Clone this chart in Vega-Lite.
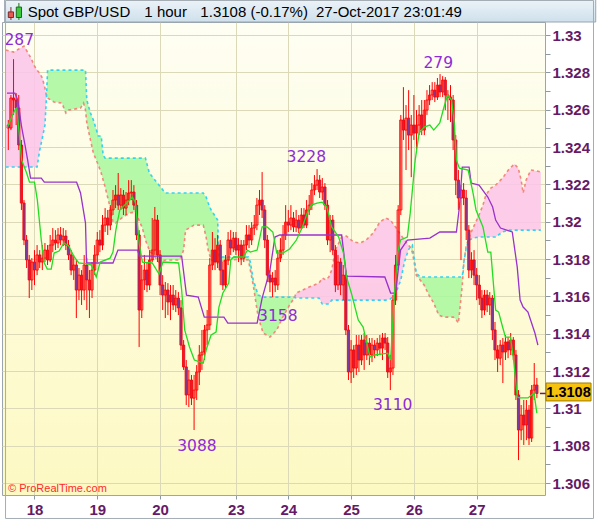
{
"$schema":"https://vega.github.io/schema/vega-lite/v6.json",
"width":543,"height":473,
"autosize":{"type":"none"},
"padding":{"left":2,"top":22,"right":55,"bottom":24},
"background":"#ffffff",
"config":{"view":{"stroke":"#9aa5ad","strokeWidth":1,"fill":{"gradient":"linear","x1":0,"y1":0,"x2":0,"y2":1,"stops":[{"offset":0,"color":"#fefef3"},{"offset":1,"color":"#fdf9c3"}]}}},
"resolve":{"axis":{"y":"independent"}},
"datasets":{
"candles":[
{"i":-10,"o":1.32518,"h":1.32545,"l":1.32384,"c":1.32502},
{"i":-9,"o":1.32502,"h":1.32679,"l":1.32491,"c":1.32663},
{"i":-8,"o":1.32663,"h":1.32871,"l":1.32572,"c":1.32652},
{"i":-7,"o":1.32652,"h":1.32689,"l":1.32518,"c":1.32609},
{"i":-6,"o":1.32609,"h":1.32679,"l":1.32384,"c":1.32411},
{"i":-5,"o":1.32411,"h":1.32438,"l":1.32063,"c":1.32100},
{"i":-4,"o":1.32100,"h":1.32116,"l":1.31875,"c":1.31902},
{"i":-3,"o":1.31902,"h":1.31929,"l":1.31752,"c":1.31795},
{"i":-2,"o":1.31795,"h":1.31822,"l":1.31591,"c":1.31688},
{"i":-1,"o":1.31688,"h":1.31805,"l":1.31634,"c":1.31784},
{"i":0,"o":1.31784,"h":1.31848,"l":1.31661,"c":1.31741},
{"i":1,"o":1.31741,"h":1.31875,"l":1.31714,"c":1.31822},
{"i":2,"o":1.31822,"h":1.31848,"l":1.31752,"c":1.31784},
{"i":3,"o":1.31784,"h":1.31875,"l":1.31741,"c":1.31805},
{"i":4,"o":1.31805,"h":1.31886,"l":1.31784,"c":1.31848},
{"i":5,"o":1.31848,"h":1.31875,"l":1.31768,"c":1.31795},
{"i":6,"o":1.31795,"h":1.31929,"l":1.31784,"c":1.31875},
{"i":7,"o":1.31875,"h":1.31966,"l":1.31837,"c":1.31902},
{"i":8,"o":1.31902,"h":1.31955,"l":1.31848,"c":1.31886},
{"i":9,"o":1.31886,"h":1.31966,"l":1.31859,"c":1.31929},
{"i":10,"o":1.31929,"h":1.31972,"l":1.31875,"c":1.31902},
{"i":11,"o":1.31902,"h":1.31966,"l":1.31870,"c":1.31923},
{"i":12,"o":1.31923,"h":1.31955,"l":1.31848,"c":1.31875},
{"i":13,"o":1.31875,"h":1.31902,"l":1.31795,"c":1.31822},
{"i":14,"o":1.31822,"h":1.31848,"l":1.31714,"c":1.31741},
{"i":15,"o":1.31741,"h":1.31822,"l":1.31688,"c":1.31768},
{"i":16,"o":1.31768,"h":1.31795,"l":1.31484,"c":1.31634},
{"i":17,"o":1.31634,"h":1.31752,"l":1.31580,"c":1.31714},
{"i":18,"o":1.31714,"h":1.31741,"l":1.31554,"c":1.31634},
{"i":19,"o":1.31634,"h":1.31822,"l":1.31580,"c":1.31768},
{"i":20,"o":1.31768,"h":1.31805,"l":1.31527,"c":1.31688},
{"i":21,"o":1.31688,"h":1.31741,"l":1.31484,"c":1.31634},
{"i":22,"o":1.31634,"h":1.31784,"l":1.31591,"c":1.31741},
{"i":23,"o":1.31741,"h":1.31875,"l":1.31714,"c":1.31822},
{"i":24,"o":1.31822,"h":1.31945,"l":1.31784,"c":1.31902},
{"i":25,"o":1.31902,"h":1.31955,"l":1.31837,"c":1.31875},
{"i":26,"o":1.31875,"h":1.32036,"l":1.31848,"c":1.31982},
{"i":27,"o":1.31982,"h":1.32073,"l":1.31945,"c":1.32020},
{"i":28,"o":1.32020,"h":1.32063,"l":1.31929,"c":1.31982},
{"i":29,"o":1.31982,"h":1.32089,"l":1.31955,"c":1.32063},
{"i":30,"o":1.32063,"h":1.32170,"l":1.32036,"c":1.32116},
{"i":31,"o":1.32116,"h":1.32196,"l":1.32073,"c":1.32143},
{"i":32,"o":1.32143,"h":1.32261,"l":1.32063,"c":1.32089},
{"i":33,"o":1.32089,"h":1.32180,"l":1.32063,"c":1.32143},
{"i":34,"o":1.32143,"h":1.32170,"l":1.32036,"c":1.32073},
{"i":35,"o":1.32073,"h":1.32159,"l":1.32036,"c":1.32116},
{"i":36,"o":1.32116,"h":1.32223,"l":1.32089,"c":1.32154},
{"i":37,"o":1.32154,"h":1.32223,"l":1.32116,"c":1.32159},
{"i":38,"o":1.32159,"h":1.32196,"l":1.32063,"c":1.32089},
{"i":39,"o":1.32089,"h":1.32116,"l":1.31902,"c":1.31929},
{"i":40,"o":1.31929,"h":1.31955,"l":1.31329,"c":1.31527},
{"i":41,"o":1.31527,"h":1.31768,"l":1.31484,"c":1.31688},
{"i":42,"o":1.31688,"h":1.31822,"l":1.31634,"c":1.31741},
{"i":43,"o":1.31741,"h":1.31784,"l":1.31623,"c":1.31661},
{"i":44,"o":1.31661,"h":1.31848,"l":1.31634,"c":1.31795},
{"i":45,"o":1.31795,"h":1.32020,"l":1.31784,"c":1.31848},
{"i":46,"o":1.31848,"h":1.32079,"l":1.31822,"c":1.32009},
{"i":47,"o":1.32009,"h":1.32036,"l":1.31784,"c":1.31822},
{"i":48,"o":1.31822,"h":1.31848,"l":1.31607,"c":1.31661},
{"i":49,"o":1.31661,"h":1.31714,"l":1.31527,"c":1.31607},
{"i":50,"o":1.31607,"h":1.31677,"l":1.31484,"c":1.31634},
{"i":51,"o":1.31634,"h":1.31671,"l":1.31500,"c":1.31570},
{"i":52,"o":1.31570,"h":1.31661,"l":1.31473,"c":1.31607},
{"i":53,"o":1.31607,"h":1.31661,"l":1.31527,"c":1.31554},
{"i":54,"o":1.31554,"h":1.31634,"l":1.31516,"c":1.31591},
{"i":55,"o":1.31591,"h":1.31623,"l":1.31500,"c":1.31538},
{"i":56,"o":1.31538,"h":1.31580,"l":1.31313,"c":1.31339},
{"i":57,"o":1.31339,"h":1.31366,"l":1.31206,"c":1.31222},
{"i":58,"o":1.31222,"h":1.31259,"l":1.31018,"c":1.31072},
{"i":59,"o":1.31072,"h":1.31206,"l":1.31007,"c":1.31152},
{"i":60,"o":1.31152,"h":1.31179,"l":1.31018,"c":1.31055},
{"i":61,"o":1.31055,"h":1.31179,"l":1.30884,"c":1.31098},
{"i":62,"o":1.31098,"h":1.31232,"l":1.31045,"c":1.31195},
{"i":63,"o":1.31195,"h":1.31339,"l":1.31125,"c":1.31286},
{"i":64,"o":1.31286,"h":1.31420,"l":1.31206,"c":1.31302},
{"i":65,"o":1.31302,"h":1.31447,"l":1.31259,"c":1.31420},
{"i":66,"o":1.31420,"h":1.31527,"l":1.31339,"c":1.31447},
{"i":67,"o":1.31447,"h":1.31805,"l":1.31420,"c":1.31768},
{"i":68,"o":1.31768,"h":1.31945,"l":1.31741,"c":1.31848},
{"i":69,"o":1.31848,"h":1.31912,"l":1.31741,"c":1.31784},
{"i":70,"o":1.31784,"h":1.31929,"l":1.31752,"c":1.31875},
{"i":71,"o":1.31875,"h":1.31902,"l":1.31661,"c":1.31741},
{"i":72,"o":1.31741,"h":1.31784,"l":1.31634,"c":1.31661},
{"i":73,"o":1.31661,"h":1.31822,"l":1.31645,"c":1.31795},
{"i":74,"o":1.31795,"h":1.31945,"l":1.31768,"c":1.31902},
{"i":75,"o":1.31902,"h":1.31955,"l":1.31822,"c":1.31859},
{"i":76,"o":1.31859,"h":1.31945,"l":1.31837,"c":1.31912},
{"i":77,"o":1.31912,"h":1.31945,"l":1.31822,"c":1.31848},
{"i":78,"o":1.31848,"h":1.31912,"l":1.31784,"c":1.31875},
{"i":79,"o":1.31875,"h":1.31902,"l":1.31768,"c":1.31805},
{"i":80,"o":1.31805,"h":1.31902,"l":1.31784,"c":1.31875},
{"i":81,"o":1.31875,"h":1.31982,"l":1.31848,"c":1.31929},
{"i":82,"o":1.31929,"h":1.31982,"l":1.31859,"c":1.31902},
{"i":83,"o":1.31902,"h":1.31998,"l":1.31875,"c":1.31966},
{"i":84,"o":1.31966,"h":1.32036,"l":1.31929,"c":1.31982},
{"i":85,"o":1.31982,"h":1.32127,"l":1.31955,"c":1.32089},
{"i":86,"o":1.32089,"h":1.32170,"l":1.32036,"c":1.32116},
{"i":87,"o":1.32116,"h":1.32266,"l":1.32020,"c":1.32063},
{"i":88,"o":1.32063,"h":1.32089,"l":1.31859,"c":1.31902},
{"i":89,"o":1.31902,"h":1.31929,"l":1.31677,"c":1.31714},
{"i":90,"o":1.31714,"h":1.31741,"l":1.31623,"c":1.31677},
{"i":91,"o":1.31677,"h":1.31730,"l":1.31596,"c":1.31698},
{"i":92,"o":1.31698,"h":1.31741,"l":1.31623,"c":1.31661},
{"i":93,"o":1.31661,"h":1.31848,"l":1.31634,"c":1.31805},
{"i":94,"o":1.31805,"h":1.31912,"l":1.31784,"c":1.31848},
{"i":95,"o":1.31848,"h":1.31982,"l":1.31822,"c":1.31929},
{"i":96,"o":1.31929,"h":1.32089,"l":1.31902,"c":1.31998},
{"i":97,"o":1.31998,"h":1.32063,"l":1.31945,"c":1.31982},
{"i":98,"o":1.31982,"h":1.32089,"l":1.31955,"c":1.32020},
{"i":99,"o":1.32020,"h":1.32052,"l":1.31945,"c":1.31972},
{"i":100,"o":1.31972,"h":1.32063,"l":1.31945,"c":1.32009},
{"i":101,"o":1.32009,"h":1.32036,"l":1.31939,"c":1.31966},
{"i":102,"o":1.31966,"h":1.32073,"l":1.31955,"c":1.32036},
{"i":103,"o":1.32036,"h":1.32073,"l":1.31966,"c":1.31982},
{"i":104,"o":1.31982,"h":1.32116,"l":1.31966,"c":1.32063},
{"i":105,"o":1.32063,"h":1.32143,"l":1.32036,"c":1.32089},
{"i":106,"o":1.32089,"h":1.32207,"l":1.32063,"c":1.32170},
{"i":107,"o":1.32170,"h":1.32250,"l":1.32143,"c":1.32196},
{"i":108,"o":1.32196,"h":1.32282,"l":1.32170,"c":1.32223},
{"i":109,"o":1.32223,"h":1.32250,"l":1.32127,"c":1.32159},
{"i":110,"o":1.32159,"h":1.32234,"l":1.32116,"c":1.32186},
{"i":111,"o":1.32186,"h":1.32207,"l":1.32063,"c":1.32089},
{"i":112,"o":1.32089,"h":1.32116,"l":1.31875,"c":1.31902},
{"i":113,"o":1.31902,"h":1.32036,"l":1.31837,"c":1.32009},
{"i":114,"o":1.32009,"h":1.32036,"l":1.31822,"c":1.31848},
{"i":115,"o":1.31848,"h":1.31875,"l":1.31623,"c":1.31661},
{"i":116,"o":1.31661,"h":1.31822,"l":1.31634,"c":1.31784},
{"i":117,"o":1.31784,"h":1.31805,"l":1.31607,"c":1.31661},
{"i":118,"o":1.31661,"h":1.31768,"l":1.31580,"c":1.31714},
{"i":119,"o":1.31714,"h":1.31741,"l":1.31393,"c":1.31420},
{"i":120,"o":1.31420,"h":1.31447,"l":1.31152,"c":1.31195},
{"i":121,"o":1.31195,"h":1.31366,"l":1.31136,"c":1.31313},
{"i":122,"o":1.31313,"h":1.31339,"l":1.31163,"c":1.31216},
{"i":123,"o":1.31216,"h":1.31393,"l":1.31179,"c":1.31339},
{"i":124,"o":1.31339,"h":1.31393,"l":1.31195,"c":1.31259},
{"i":125,"o":1.31259,"h":1.31393,"l":1.31232,"c":1.31366},
{"i":126,"o":1.31366,"h":1.31404,"l":1.31206,"c":1.31286},
{"i":127,"o":1.31286,"h":1.31393,"l":1.31259,"c":1.31350},
{"i":128,"o":1.31350,"h":1.31377,"l":1.31232,"c":1.31286},
{"i":129,"o":1.31286,"h":1.31377,"l":1.31248,"c":1.31339},
{"i":130,"o":1.31339,"h":1.31366,"l":1.31269,"c":1.31313},
{"i":131,"o":1.31313,"h":1.31377,"l":1.31280,"c":1.31350},
{"i":132,"o":1.31350,"h":1.31393,"l":1.31286,"c":1.31323},
{"i":133,"o":1.31323,"h":1.31404,"l":1.31259,"c":1.31377},
{"i":134,"o":1.31377,"h":1.31404,"l":1.31313,"c":1.31350},
{"i":135,"o":1.31350,"h":1.31382,"l":1.31163,"c":1.31195},
{"i":136,"o":1.31195,"h":1.31286,"l":1.31098,"c":1.31216},
{"i":137,"o":1.31216,"h":1.31607,"l":1.31179,"c":1.31580},
{"i":138,"o":1.31580,"h":1.31822,"l":1.31554,"c":1.31768},
{"i":139,"o":1.31768,"h":1.32089,"l":1.31741,"c":1.32063},
{"i":140,"o":1.32063,"h":1.32572,"l":1.32036,"c":1.32545},
{"i":141,"o":1.32545,"h":1.32721,"l":1.32438,"c":1.32491},
{"i":142,"o":1.32491,"h":1.32625,"l":1.32277,"c":1.32555},
{"i":143,"o":1.32555,"h":1.32705,"l":1.32384,"c":1.32464},
{"i":144,"o":1.32464,"h":1.32572,"l":1.32239,"c":1.32518},
{"i":145,"o":1.32518,"h":1.32679,"l":1.32438,"c":1.32475},
{"i":146,"o":1.32475,"h":1.32598,"l":1.32384,"c":1.32518},
{"i":147,"o":1.32518,"h":1.32625,"l":1.32464,"c":1.32572},
{"i":148,"o":1.32572,"h":1.32652,"l":1.32464,"c":1.32491},
{"i":149,"o":1.32491,"h":1.32652,"l":1.32464,"c":1.32598},
{"i":150,"o":1.32598,"h":1.32705,"l":1.32572,"c":1.32652},
{"i":151,"o":1.32652,"h":1.32732,"l":1.32625,"c":1.32679},
{"i":152,"o":1.32679,"h":1.32748,"l":1.32652,"c":1.32705},
{"i":153,"o":1.32705,"h":1.32748,"l":1.32641,"c":1.32668},
{"i":154,"o":1.32668,"h":1.32770,"l":1.32652,"c":1.32732},
{"i":155,"o":1.32732,"h":1.32791,"l":1.32668,"c":1.32695},
{"i":156,"o":1.32695,"h":1.32780,"l":1.32668,"c":1.32759},
{"i":157,"o":1.32759,"h":1.32775,"l":1.32598,"c":1.32679},
{"i":158,"o":1.32679,"h":1.32705,"l":1.32545,"c":1.32668},
{"i":159,"o":1.32668,"h":1.32732,"l":1.32534,"c":1.32652},
{"i":160,"o":1.32652,"h":1.32679,"l":1.32384,"c":1.32438},
{"i":161,"o":1.32438,"h":1.32464,"l":1.32143,"c":1.32223},
{"i":162,"o":1.32223,"h":1.32277,"l":1.32063,"c":1.32127},
{"i":163,"o":1.32127,"h":1.32196,"l":1.31795,"c":1.32170},
{"i":164,"o":1.32170,"h":1.32207,"l":1.32089,"c":1.32127},
{"i":165,"o":1.32127,"h":1.32170,"l":1.31902,"c":1.31955},
{"i":166,"o":1.31955,"h":1.31982,"l":1.31698,"c":1.31741},
{"i":167,"o":1.31741,"h":1.31837,"l":1.31698,"c":1.31795},
{"i":168,"o":1.31795,"h":1.31848,"l":1.31661,"c":1.31714},
{"i":169,"o":1.31714,"h":1.31752,"l":1.31580,"c":1.31661},
{"i":170,"o":1.31661,"h":1.31714,"l":1.31554,"c":1.31591},
{"i":171,"o":1.31591,"h":1.31634,"l":1.31484,"c":1.31527},
{"i":172,"o":1.31527,"h":1.31634,"l":1.31500,"c":1.31607},
{"i":173,"o":1.31607,"h":1.31634,"l":1.31516,"c":1.31554},
{"i":174,"o":1.31554,"h":1.31623,"l":1.31500,"c":1.31591},
{"i":175,"o":1.31591,"h":1.31607,"l":1.31366,"c":1.31420},
{"i":176,"o":1.31420,"h":1.31463,"l":1.31259,"c":1.31313},
{"i":177,"o":1.31313,"h":1.31339,"l":1.31195,"c":1.31269},
{"i":178,"o":1.31269,"h":1.31366,"l":1.31232,"c":1.31339},
{"i":179,"o":1.31339,"h":1.31377,"l":1.31136,"c":1.31302},
{"i":180,"o":1.31302,"h":1.31393,"l":1.31259,"c":1.31356},
{"i":181,"o":1.31356,"h":1.31382,"l":1.31269,"c":1.31313},
{"i":182,"o":1.31313,"h":1.31404,"l":1.31286,"c":1.31366},
{"i":183,"o":1.31366,"h":1.31382,"l":1.31259,"c":1.31286},
{"i":184,"o":1.31286,"h":1.31313,"l":1.31045,"c":1.31072},
{"i":185,"o":1.31072,"h":1.31098,"l":1.30723,"c":1.30884},
{"i":186,"o":1.30884,"h":1.31018,"l":1.30830,"c":1.30964},
{"i":187,"o":1.30964,"h":1.31045,"l":1.30804,"c":1.30911},
{"i":188,"o":1.30911,"h":1.31045,"l":1.30830,"c":1.30991},
{"i":189,"o":1.30991,"h":1.31018,"l":1.30804,"c":1.30841},
{"i":190,"o":1.30841,"h":1.31125,"l":1.30820,"c":1.31098},
{"i":191,"o":1.31098,"h":1.31243,"l":1.31045,"c":1.31125},
{"i":192,"o":1.31125,"h":1.31163,"l":1.31055,"c":1.31080}
],
"tenkan":[
{"i":-10.5,"t":1.32502},{"i":-7.5,"t":1.32598},{"i":-6.75,"t":1.32609},{"i":-5.6,"t":1.32438},{"i":-4.9,"t":1.32330},{"i":-3,"t":1.32261},{"i":-1.9,"t":1.32212},{"i":0,"t":1.32212},{"i":1.1,"t":1.32116},{"i":2.6,"t":1.31902},{"i":3.75,"t":1.31779},{"i":4.9,"t":1.31746},{"i":6.4,"t":1.31746},{"i":7.5,"t":1.31832},{"i":9.4,"t":1.31843},{"i":11.25,"t":1.31886},{"i":13.1,"t":1.31870},{"i":15,"t":1.31816},{"i":16.9,"t":1.31779},{"i":20.6,"t":1.31773},{"i":21.75,"t":1.31768},{"i":23.6,"t":1.31704},{"i":25.1,"t":1.31784},{"i":28.9,"t":1.31805},{"i":30,"t":1.31838},{"i":31.1,"t":1.31955},{"i":32.6,"t":1.32063},{"i":34.9,"t":1.32095},{"i":37.5,"t":1.32132},{"i":38.6,"t":1.32100},{"i":40.1,"t":1.31875},{"i":41.25,"t":1.31784},{"i":45,"t":1.31779},{"i":47.6,"t":1.31720},{"i":49.1,"t":1.31784},{"i":55.1,"t":1.31779},{"i":56.25,"t":1.31634},{"i":57.4,"t":1.31420},{"i":59.25,"t":1.31329},{"i":61.1,"t":1.31259},{"i":64.5,"t":1.31243},{"i":65.6,"t":1.31313},{"i":67.5,"t":1.31393},{"i":69.4,"t":1.31409},{"i":70.5,"t":1.31543},{"i":72,"t":1.31618},{"i":74.25,"t":1.31671},{"i":75,"t":1.31795},{"i":76.1,"t":1.31811},{"i":79.9,"t":1.31811},{"i":81.4,"t":1.31848},{"i":82.5,"t":1.31837},{"i":85.1,"t":1.31848},{"i":87,"t":1.31972},{"i":88.9,"t":1.31972},{"i":91.1,"t":1.31945},{"i":92.6,"t":1.31832},{"i":94.9,"t":1.31832},{"i":97.5,"t":1.31854},{"i":100.1,"t":1.31902},{"i":102.4,"t":1.31972},{"i":104.2,"t":1.32046},{"i":105.75,"t":1.32089},{"i":108,"t":1.32100},{"i":109.9,"t":1.32105},{"i":111.75,"t":1.32079},{"i":113.6,"t":1.31972},{"i":116.25,"t":1.31918},{"i":118.1,"t":1.31832},{"i":119.25,"t":1.31704},{"i":121.1,"t":1.31618},{"i":123.75,"t":1.31473},{"i":125.6,"t":1.31436},{"i":126.75,"t":1.31366},{"i":128.25,"t":1.31275},{"i":130.1,"t":1.31286},{"i":135,"t":1.31296},{"i":136.1,"t":1.31259},{"i":137.6,"t":1.31618},{"i":138.75,"t":1.31832},{"i":139.9,"t":1.31902},{"i":142.5,"t":1.31918},{"i":143.6,"t":1.32046},{"i":145.5,"t":1.32330},{"i":147,"t":1.32475},{"i":148.9,"t":1.32507},{"i":151.1,"t":1.32518},{"i":152.6,"t":1.32491},{"i":154.9,"t":1.32529},{"i":156.4,"t":1.32609},{"i":157.9,"t":1.32679},{"i":159.4,"t":1.32652},{"i":160.5,"t":1.32518},{"i":161.25,"t":1.32330},{"i":162.4,"t":1.32287},{"i":165.75,"t":1.32277},{"i":167.6,"t":1.32154},{"i":168.75,"t":1.32063},{"i":171.4,"t":1.31972},{"i":173.25,"t":1.31837},{"i":174.4,"t":1.31837},{"i":175.5,"t":1.31650},{"i":176.25,"t":1.31527},{"i":177.4,"t":1.31516},{"i":178.9,"t":1.31436},{"i":180,"t":1.31382},{"i":181.9,"t":1.31382},{"i":183,"t":1.31275},{"i":184.5,"t":1.31061},{"i":185.6,"t":1.31056},{"i":188.6,"t":1.31056},{"i":190.9,"t":1.31082},{"i":192,"t":1.30975}
],
"kijun":[
{"i":-10.5,"k":1.32689},{"i":-7.5,"k":1.32689},{"i":-6.4,"k":1.32652},{"i":-4.9,"k":1.32507},{"i":-3.75,"k":1.32421},{"i":-2.6,"k":1.32330},{"i":-1.5,"k":1.32234},{"i":2.6,"k":1.32234},{"i":3.75,"k":1.32212},{"i":16.1,"k":1.32212},{"i":17.6,"k":1.32154},{"i":19.5,"k":1.31993},{"i":19.9,"k":1.31779},{"i":30,"k":1.31779},{"i":31.9,"k":1.31848},{"i":39.4,"k":1.31848},{"i":40.1,"k":1.31816},{"i":56.25,"k":1.31816},{"i":58.1,"k":1.31607},{"i":62.6,"k":1.31596},{"i":64.9,"k":1.31489},{"i":72.4,"k":1.31489},{"i":73.9,"k":1.31457},{"i":85.1,"k":1.31457},{"i":87,"k":1.31591},{"i":90,"k":1.31741},{"i":91.9,"k":1.31918},{"i":93.75,"k":1.31929},{"i":117.4,"k":1.31929},{"i":119.25,"k":1.31709},{"i":133.9,"k":1.31704},{"i":136.1,"k":1.31618},{"i":138,"k":1.31618},{"i":139.9,"k":1.31848},{"i":142.5,"k":1.31902},{"i":151.1,"k":1.31912},{"i":154.9,"k":1.31945},{"i":161.25,"k":1.31945},{"i":162.4,"k":1.32079},{"i":163.5,"k":1.32293},{"i":166.1,"k":1.32293},{"i":166.9,"k":1.32207},{"i":169.9,"k":1.32196},{"i":173.25,"k":1.32132},{"i":175.1,"k":1.32079},{"i":176.25,"k":1.32009},{"i":178.1,"k":1.31966},{"i":182.6,"k":1.31945},{"i":184.5,"k":1.31757},{"i":185.6,"k":1.31580},{"i":186.75,"k":1.31543},{"i":188.6,"k":1.31516},{"i":191.25,"k":1.31404},{"i":192.4,"k":1.31339}
],
"cloud":[
{"i":-11,"a":1.32920,"b":1.32293,"s":1,"k":"p"},{"i":-8,"a":1.32909,"b":1.32293,"s":1,"k":"p"},{"i":-6,"a":1.32925,"b":1.32293,"s":1,"k":"p"},{"i":-4,"a":1.32941,"b":1.32293,"s":1,"k":"p"},{"i":-2,"a":1.32893,"b":1.32293,"s":1,"k":"p"},{"i":-1,"a":1.32866,"b":1.32293,"s":1,"k":"p"},{"i":0,"a":1.32834,"b":1.32293,"s":1,"k":"p"},{"i":1,"a":1.32812,"b":1.32293,"s":1,"k":"p"},{"i":2,"a":1.32796,"b":1.32384,"s":1,"k":"p"},{"i":3,"a":1.32770,"b":1.32448,"s":1,"k":"p"},{"i":4,"a":1.32716,"b":1.32518,"s":1,"k":"p"},{"i":4.6,"a":1.32673,"b":1.32673,"s":1,"k":"p"},
{"i":4.6,"a":1.32673,"b":1.32673,"s":2,"k":"g"},{"i":5,"a":1.32663,"b":1.32812,"s":2,"k":"g"},{"i":7.5,"a":1.32641,"b":1.32812,"s":2,"k":"g"},{"i":10.5,"a":1.32636,"b":1.32812,"s":2,"k":"g"},{"i":12,"a":1.32582,"b":1.32812,"s":2,"k":"g"},{"i":13,"a":1.32598,"b":1.32812,"s":2,"k":"g"},{"i":17.6,"a":1.32609,"b":1.32812,"s":2,"k":"g"},{"i":18.75,"a":1.32636,"b":1.32812,"s":2,"k":"g"},{"i":19.5,"a":1.32598,"b":1.32812,"s":2,"k":"g"},{"i":20,"a":1.32529,"b":1.32652,"s":2,"k":"g"},{"i":21.4,"a":1.32438,"b":1.32582,"s":2,"k":"g"},{"i":22.5,"a":1.32368,"b":1.32545,"s":2,"k":"g"},{"i":24.4,"a":1.32304,"b":1.32459,"s":2,"k":"g"},{"i":25.5,"a":1.32261,"b":1.32459,"s":2,"k":"g"},{"i":26.25,"a":1.32223,"b":1.32357,"s":2,"k":"g"},{"i":27,"a":1.32186,"b":1.32341,"s":2,"k":"g"},{"i":29,"a":1.32073,"b":1.32341,"s":2,"k":"g"},{"i":30,"a":1.31998,"b":1.32341,"s":2,"k":"g"},{"i":31,"a":1.31993,"b":1.32341,"s":2,"k":"g"},{"i":33.75,"a":1.32025,"b":1.32341,"s":2,"k":"g"},{"i":36.4,"a":1.32047,"b":1.32341,"s":2,"k":"g"},{"i":38.6,"a":1.32052,"b":1.32341,"s":2,"k":"g"},{"i":41.25,"a":1.31966,"b":1.32341,"s":2,"k":"g"},{"i":42.4,"a":1.31902,"b":1.32341,"s":2,"k":"g"},{"i":43.9,"a":1.31848,"b":1.32261,"s":2,"k":"g"},{"i":47.6,"a":1.31784,"b":1.32196,"s":2,"k":"g"},{"i":50,"a":1.31795,"b":1.32154,"s":2,"k":"g"},{"i":52.5,"a":1.31795,"b":1.32154,"s":2,"k":"g"},{"i":55.5,"a":1.31795,"b":1.32154,"s":2,"k":"g"},{"i":57,"a":1.31848,"b":1.32154,"s":2,"k":"g"},{"i":57.75,"a":1.31955,"b":1.32154,"s":2,"k":"g"},{"i":61,"a":1.31982,"b":1.32154,"s":2,"k":"g"},{"i":64.5,"a":1.31982,"b":1.32154,"s":2,"k":"g"},{"i":65.6,"a":1.31918,"b":1.32132,"s":2,"k":"g"},{"i":66.4,"a":1.31848,"b":1.32100,"s":2,"k":"g"},{"i":67.5,"a":1.31795,"b":1.32063,"s":2,"k":"g"},{"i":70,"a":1.31779,"b":1.32009,"s":2,"k":"g"},{"i":70.5,"a":1.31784,"b":1.31811,"s":2,"k":"g"},{"i":75,"a":1.31795,"b":1.31811,"s":2,"k":"g"},{"i":78.75,"a":1.31800,"b":1.31811,"s":2,"k":"g"},{"i":81.75,"a":1.31795,"b":1.31811,"s":2,"k":"g"},{"i":82.5,"a":1.31741,"b":1.31784,"s":2,"k":"g"},{"i":83.6,"a":1.31661,"b":1.31688,"s":2,"k":"g"},{"i":85.5,"a":1.31489,"b":1.31607,"s":2,"k":"g"},{"i":87.4,"a":1.31404,"b":1.31596,"s":2,"k":"g"},{"i":90,"a":1.31382,"b":1.31596,"s":2,"k":"g"},{"i":92.6,"a":1.31420,"b":1.31596,"s":2,"k":"g"},{"i":94.9,"a":1.31489,"b":1.31596,"s":2,"k":"g"},{"i":97.5,"a":1.31554,"b":1.31596,"s":2,"k":"g"},{"i":99,"a":1.31586,"b":1.31596,"s":2,"k":"g"},{"i":99.4,"a":1.31594,"b":1.31594,"s":2,"k":"g"},
{"i":99.4,"a":1.31594,"b":1.31594,"s":3,"k":"p"},{"i":100,"a":1.31618,"b":1.31591,"s":3,"k":"p"},{"i":105,"a":1.31650,"b":1.31591,"s":3,"k":"p"},{"i":108.75,"a":1.31672,"b":1.31591,"s":3,"k":"p"},{"i":110,"a":1.31698,"b":1.31559,"s":3,"k":"p"},{"i":111.4,"a":1.31688,"b":1.31559,"s":3,"k":"p"},{"i":112.5,"a":1.31704,"b":1.31559,"s":3,"k":"p"},{"i":113.6,"a":1.31741,"b":1.31580,"s":3,"k":"p"},{"i":115,"a":1.31848,"b":1.31580,"s":3,"k":"p"},{"i":117.4,"a":1.31918,"b":1.31580,"s":3,"k":"p"},{"i":119.25,"a":1.31923,"b":1.31580,"s":3,"k":"p"},{"i":122,"a":1.31891,"b":1.31580,"s":3,"k":"p"},{"i":124.5,"a":1.31886,"b":1.31580,"s":3,"k":"p"},{"i":126.75,"a":1.31902,"b":1.31580,"s":3,"k":"p"},{"i":129.4,"a":1.31939,"b":1.31580,"s":3,"k":"p"},{"i":132,"a":1.31998,"b":1.31580,"s":3,"k":"p"},{"i":134.25,"a":1.32020,"b":1.31580,"s":3,"k":"p"},{"i":136,"a":1.32009,"b":1.31586,"s":3,"k":"p"},{"i":138,"a":1.31972,"b":1.31613,"s":3,"k":"p"},{"i":140,"a":1.31929,"b":1.31688,"s":3,"k":"p"},{"i":141.4,"a":1.31902,"b":1.31784,"s":3,"k":"p"},{"i":142.9,"a":1.31875,"b":1.31848,"s":3,"k":"p"},{"i":143.6,"a":1.31864,"b":1.31864,"s":3,"k":"p"},
{"i":143.6,"a":1.31864,"b":1.31864,"s":4,"k":"g"},{"i":144.4,"a":1.31837,"b":1.31875,"s":4,"k":"g"},{"i":145.1,"a":1.31784,"b":1.31805,"s":4,"k":"g"},{"i":145.9,"a":1.31714,"b":1.31725,"s":4,"k":"g"},{"i":147.4,"a":1.31688,"b":1.31704,"s":4,"k":"g"},{"i":148.9,"a":1.31661,"b":1.31704,"s":4,"k":"g"},{"i":150.75,"a":1.31607,"b":1.31704,"s":4,"k":"g"},{"i":152.6,"a":1.31564,"b":1.31704,"s":4,"k":"g"},{"i":154.5,"a":1.31500,"b":1.31704,"s":4,"k":"g"},{"i":156.4,"a":1.31489,"b":1.31704,"s":4,"k":"g"},{"i":160.1,"a":1.31489,"b":1.31704,"s":4,"k":"g"},{"i":161.25,"a":1.31473,"b":1.31704,"s":4,"k":"g"},{"i":162,"a":1.31457,"b":1.31704,"s":4,"k":"g"},{"i":162.75,"a":1.31554,"b":1.31704,"s":4,"k":"g"},{"i":163.5,"a":1.31661,"b":1.31704,"s":4,"k":"g"},{"i":164.1,"a":1.31784,"b":1.31784,"s":4,"k":"g"},
{"i":164.1,"a":1.31784,"b":1.31784,"s":5,"k":"p"},{"i":165,"a":1.31870,"b":1.31859,"s":5,"k":"p"},{"i":166.1,"a":1.31918,"b":1.31902,"s":5,"k":"p"},{"i":167.6,"a":1.31966,"b":1.31912,"s":5,"k":"p"},{"i":169.9,"a":1.32036,"b":1.31918,"s":5,"k":"p"},{"i":171.4,"a":1.32089,"b":1.31918,"s":5,"k":"p"},{"i":172.5,"a":1.32143,"b":1.31918,"s":5,"k":"p"},{"i":174.4,"a":1.32180,"b":1.31918,"s":5,"k":"p"},{"i":176.25,"a":1.32196,"b":1.31918,"s":5,"k":"p"},{"i":178.9,"a":1.32234,"b":1.31945,"s":5,"k":"p"},{"i":181.1,"a":1.32277,"b":1.31955,"s":5,"k":"p"},{"i":183.4,"a":1.32309,"b":1.31955,"s":5,"k":"p"},{"i":184.9,"a":1.32287,"b":1.31955,"s":5,"k":"p"},{"i":186,"a":1.32223,"b":1.31955,"s":5,"k":"p"},{"i":186.75,"a":1.32154,"b":1.31955,"s":5,"k":"p"},{"i":187.9,"a":1.32223,"b":1.31955,"s":5,"k":"p"},{"i":189.75,"a":1.32277,"b":1.31955,"s":5,"k":"p"},{"i":192,"a":1.32272,"b":1.31955,"s":5,"k":"p"},{"i":193.5,"a":1.32266,"b":1.31955,"s":5,"k":"p"}
],
"labels":[
{"t":"287","i":-5.8,"p":1.32973},{"t":"3228","i":103.9,"p":1.32346},{"t":"3158","i":93.0,"p":1.31495},{"t":"3088","i":62.1,"p":1.30798},{"t":"279","i":154.3,"p":1.32850},{"t":"3110","i":136.9,"p":1.31018}
],
"header":[
{"t":"Spot GBP/USD","i":-2.6},{"t":"1 hour","i":42.0},{"t":"1.3108 (-0.17%)","i":63.4},{"t":"27-Oct-2017 23:01:49","i":107.6}
]
},
"data":{"name":"candles"},
"encoding":{
"x":{"field":"i","type":"quantitative","scale":{"domain":[-10.5,193.2],"nice":false,"zero":false},
"axis":{"values":[0,24,48,77,97,121,145,169],"labelExpr":"datum.value==0?'18':datum.value==24?'19':datum.value==48?'20':datum.value==77?'23':datum.value==97?'24':datum.value==121?'25':datum.value==145?'26':'27'","title":null,"grid":true,"gridColor":"#dcd9b8","tickSize":4,"tickColor":"#8c98a2","domain":false,"labelFont":"Liberation Sans","labelFontSize":15,"labelFontWeight":"bold","labelColor":"#661a66","labelPadding":3}}
},
"layer":[
{"data":{"name":"cloud"},"mark":{"type":"area","clip":true,"opacity":0.85},
"encoding":{"y":{"field":"a","type":"quantitative","scale":{"domain":[1.30536,1.3307],"nice":false,"zero":false},"axis":null},"y2":{"field":"b"},"color":{"field":"k","type":"nominal","scale":{"domain":["g","p"],"range":["#a8f79c","#fcc3ea"]},"legend":null},"detail":{"field":"s"}}},
{"data":{"name":"cloud"},"mark":{"type":"line","clip":true,"color":"#f4867c","strokeWidth":1.6,"strokeDash":[3,3]},
"encoding":{"y":{"field":"a","type":"quantitative","scale":{"domain":[1.30536,1.3307],"nice":false,"zero":false},"axis":null}}},
{"data":{"name":"cloud"},"mark":{"type":"line","clip":true,"color":"#33d3f0","strokeWidth":1.6,"strokeDash":[3,3]},
"encoding":{"y":{"field":"b","type":"quantitative","scale":{"domain":[1.30536,1.3307],"nice":false,"zero":false},"axis":null}}},
{"mark":{"type":"rule","color":"#ff0000","strokeWidth":1,"clip":true},
"encoding":{"y":{"field":"l","type":"quantitative","scale":{"domain":[1.30536,1.3307],"nice":false,"zero":false},
"axis":{"orient":"right","values":[1.306,1.307,1.308,1.309,1.31,1.311,1.312,1.313,1.314,1.315,1.316,1.317,1.318,1.319,1.32,1.321,1.322,1.323,1.324,1.325,1.326,1.327,1.328,1.329,1.33],"labelExpr":"round(datum.value*1000)%2==0 ? format(datum.value,'.3~f') : ''","title":null,"grid":true,"gridColor":{"condition":{"test":"round(datum.value*1000)%2==0","value":"#dcd9b8"},"value":"transparent"},"tickSize":5,"tickColor":"#8c98a2","domain":false,"labelFont":"Liberation Sans","labelFontSize":15,"labelFontWeight":"bold","labelColor":"#661a66","labelPadding":2,"labelOverlap":false}},
"y2":{"field":"h"}}},
{"mark":{"type":"bar","width":2.2,"stroke":"#ff0000","strokeWidth":0.9,"clip":true},
"encoding":{"y":{"field":"o","type":"quantitative","scale":{"domain":[1.30536,1.3307],"nice":false,"zero":false},"axis":null},"y2":{"field":"c"},
"fill":{"condition":{"test":"datum.c < datum.o","value":"#7a3c9a"},"value":"transparent"}}},
{"data":{"name":"kijun"},"mark":{"type":"line","clip":true,"color":"#9932cc","strokeWidth":1.3},
"encoding":{"y":{"field":"k","type":"quantitative","scale":{"domain":[1.30536,1.3307],"nice":false,"zero":false},"axis":null}}},
{"data":{"name":"tenkan"},"mark":{"type":"line","clip":true,"color":"#22dd22","strokeWidth":1.3},
"encoding":{"y":{"field":"t","type":"quantitative","scale":{"domain":[1.30536,1.3307],"nice":false,"zero":false},"axis":null}}},
{"data":{"name":"labels"},"mark":{"type":"text","font":"DejaVu Sans","fontSize":15.5,"color":"#8e2bd6","align":"center","baseline":"middle"},
"encoding":{"y":{"field":"p","type":"quantitative","scale":{"domain":[1.30536,1.3307],"nice":false,"zero":false},"axis":null},"text":{"field":"t"}}},
{"transform":[{"filter":"datum.i == 192"}],"mark":{"type":"rect","clip":false,"fill":{"gradient":"linear","x1":0,"y1":0,"x2":0,"y2":1,"stops":[{"offset":0,"color":"#f3f8fb"},{"offset":1,"color":"#cfe0ec"}]},"stroke":"#9aa5ad","strokeWidth":1},
"encoding":{"x":{"datum":-11.4,"type":"quantitative"},"x2":{"datum":214.5},"y":{"datum":1.3307,"type":"quantitative","scale":{"domain":[1.30536,1.3307],"nice":false,"zero":false},"axis":null},"y2":{"datum":1.3322}}},
{"transform":[{"filter":"datum.i == 192"}],"mark":{"type":"rect","clip":false,"fill":"transparent","stroke":"#a4adb4","strokeWidth":1},
"encoding":{"x":{"datum":-11.06,"type":"quantitative"},"x2":{"datum":213.65},"y":{"datum":1.331852,"type":"quantitative","scale":{"domain":[1.30536,1.3307],"nice":false,"zero":false},"axis":null},"y2":{"datum":1.304102}}},
{"transform":[{"filter":"datum.i == 192"}],"mark":{"type":"rule","clip":false,"color":"#1a7a1a","strokeWidth":1},
"encoding":{"x":{"datum":-5.95,"type":"quantitative"},"y":{"datum":1.33172,"type":"quantitative","scale":{"domain":[1.30536,1.3307],"nice":false,"zero":false},"axis":null},"y2":{"datum":1.33081}}},
{"transform":[{"filter":"datum.i == 192"}],"mark":{"type":"rule","clip":false,"color":"#8a2a2a","strokeWidth":1},
"encoding":{"x":{"datum":-9.0,"type":"quantitative"},"y":{"datum":1.3315,"type":"quantitative","scale":{"domain":[1.30536,1.3307],"nice":false,"zero":false},"axis":null},"y2":{"datum":1.33081}}},
{"transform":[{"filter":"datum.i == 192"}],"mark":{"type":"rect","clip":false,"fill":"#e85a50","stroke":"#7a2a2a","strokeWidth":1},
"encoding":{"x":{"datum":-10.0,"type":"quantitative"},"x2":{"datum":-8.0},"y":{"datum":1.33124,"type":"quantitative","scale":{"domain":[1.30536,1.3307],"nice":false,"zero":false},"axis":null},"y2":{"datum":1.33094}}},
{"transform":[{"filter":"datum.i == 192"}],"mark":{"type":"rect","clip":false,"fill":"#3cc83c","stroke":"#1a6a1a","strokeWidth":1},
"encoding":{"x":{"datum":-6.95,"type":"quantitative"},"x2":{"datum":-4.95},"y":{"datum":1.3315,"type":"quantitative","scale":{"domain":[1.30536,1.3307],"nice":false,"zero":false},"axis":null},"y2":{"datum":1.33094}}},
{"data":{"name":"header"},"mark":{"type":"text","font":"Liberation Sans","fontSize":15,"color":"#000000","align":"left","baseline":"alphabetic","clip":false},
"encoding":{"y":{"datum":1.33097,"type":"quantitative","scale":{"domain":[1.30536,1.3307],"nice":false,"zero":false},"axis":null},"text":{"field":"t"}}},
{"transform":[{"filter":"datum.i == 192"}],"mark":{"type":"text","text":"© ProRealTime.com","font":"Liberation Sans","fontSize":11,"color":"#ff2a2a","align":"left","baseline":"alphabetic"},
"encoding":{"x":{"datum":-10.1,"type":"quantitative"},"y":{"datum":1.30552,"type":"quantitative","scale":{"domain":[1.30536,1.3307],"nice":false,"zero":false},"axis":null}}},
{"transform":[{"filter":"datum.i == 192"}],"mark":{"type":"rule","color":"#661a66","strokeWidth":1.5,"clip":false},
"encoding":{"x":{"datum":193.2,"type":"quantitative"},"x2":{"datum":195.5},"y":{"field":"c","type":"quantitative","scale":{"domain":[1.30536,1.3307],"nice":false,"zero":false},"axis":null}}},
{"transform":[{"filter":"datum.i == 192"}],"mark":{"type":"rect","clip":false,"fill":"#f6c20e","stroke":"#a07c00","strokeWidth":1},
"encoding":{"x":{"datum":195.5,"type":"quantitative"},"x2":{"datum":212.7},"y":{"datum":1.31136,"type":"quantitative","scale":{"domain":[1.30536,1.3307],"nice":false,"zero":false},"axis":null},"y2":{"datum":1.3104}}},
{"transform":[{"filter":"datum.i == 192"}],"mark":{"type":"text","font":"Liberation Sans","fontSize":14.5,"fontWeight":"bold","color":"#000000","align":"center","baseline":"middle","clip":false},
"encoding":{"x":{"datum":204.1,"type":"quantitative"},"y":{"field":"c","type":"quantitative","scale":{"domain":[1.30536,1.3307],"nice":false,"zero":false},"axis":null},"text":{"field":"c","format":".4f"}}}
]
}
